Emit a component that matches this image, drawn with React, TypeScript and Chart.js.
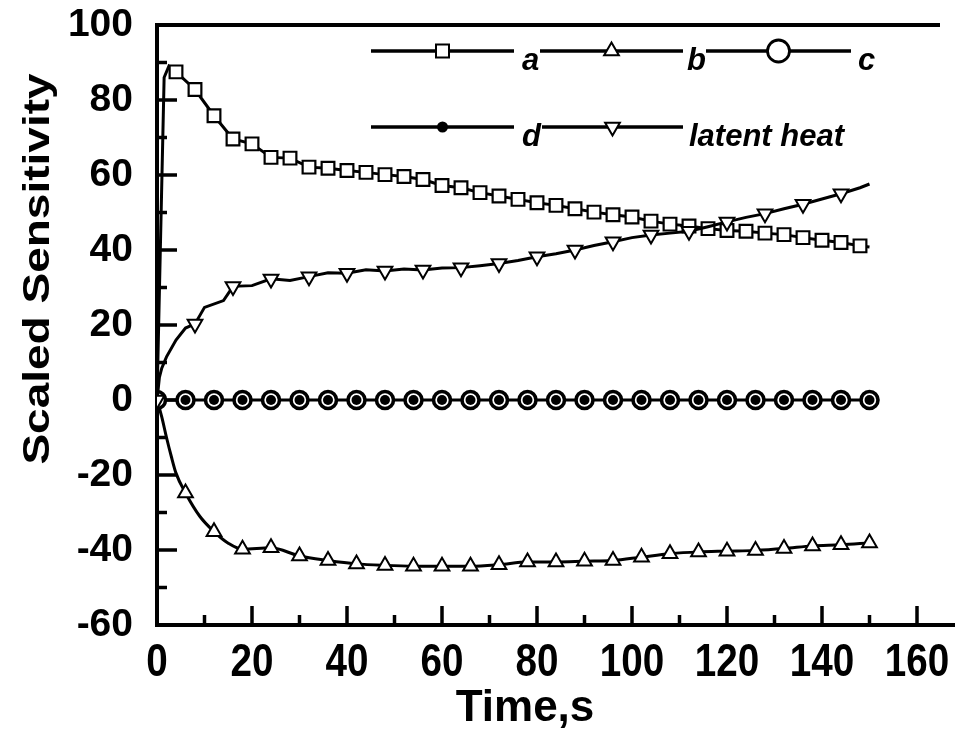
import React, { useEffect, useRef } from 'react';
import { Chart, registerables } from 'chart.js';

Chart.register(...registerables);

// ---------- data ----------
const seriesLabels = ['a', 'b', 'c', 'd', 'latent heat'];
const xTitle = 'Time,s';
const yTitle = 'Scaled Sensitivity';

const aTime = [0, 1.5, 2.5, 4, 8, 12, 16, 20, 24, 28, 32, 36, 40, 44, 48, 52, 56, 60, 64, 68, 72, 76, 80, 84, 88, 92, 96, 100, 104, 108, 112, 116, 120, 124, 128, 132, 136, 140, 144, 148, 150];
const aValue = [0, 86, 89, 87.5, 82.8, 75.8, 69.6, 68.3, 64.7, 64.5, 62.1, 61.8, 61.2, 60.7, 60.1, 59.6, 58.8, 57.2, 56.6, 55.3, 54.4, 53.5, 52.6, 51.9, 51.0, 50.1, 49.4, 48.8, 47.7, 46.9, 46.4, 45.7, 45.2, 45.0, 44.5, 44.1, 43.3, 42.6, 42.0, 41.1, 40.8];

const bTime = [0, 1, 2, 3, 4, 6, 9, 12, 15, 18, 24, 30, 36, 42, 48, 54, 60, 66, 72, 78, 84, 90, 96, 102, 108, 114, 120, 126, 132, 138, 144, 150];
const bValue = [0, -4.5, -10, -15, -19.5, -24.8, -31, -35.1, -38.2, -39.8, -39.4, -41.6, -42.8, -43.7, -44.1, -44.3, -44.3, -44.3, -43.9, -43.2, -43.2, -43.0, -42.8, -41.9, -41.0, -40.5, -40.3, -40.1, -39.6, -38.9, -38.6, -38.1];

const cdTime = [0, 6, 12, 18, 24, 30, 36, 42, 48, 54, 60, 66, 72, 78, 84, 90, 96, 102, 108, 114, 120, 126, 132, 138, 144, 150];
const cValue = [0, 0, 0, 0, 0, 0, 0, 0, 0, 0, 0, 0, 0, 0, 0, 0, 0, 0, 0, 0, 0, 0, 0, 0, 0, 0];
const dValue = [0, 0, 0, 0, 0, 0, 0, 0, 0, 0, 0, 0, 0, 0, 0, 0, 0, 0, 0, 0, 0, 0, 0, 0, 0, 0];

const latentTime = [0, 0.5, 1, 2, 4, 6, 8, 10, 14, 16, 20, 24, 28, 32, 36, 40, 44, 48, 52, 56, 60, 64, 68, 72, 76, 80, 84, 88, 92, 96, 100, 104, 108, 112, 116, 120, 124, 128, 132, 136, 140, 144, 148, 150];
const latentValue = [0, 6, 8.5, 11.5, 16, 19.2, 20.3, 24.7, 26.5, 30.3, 30.5, 32.3, 31.9, 32.9, 33.9, 33.8, 34.7, 34.4, 34.9, 34.7, 35.2, 35.3, 35.8, 36.4, 37.2, 38.2, 39.0, 40.0, 41.2, 42.2, 43.3, 44.0, 44.5, 45.0, 46.2, 47.5, 48.7, 49.7, 51.0, 52.2, 53.6, 55.0, 56.6, 57.6];

const xMin = 0;
const xMax = 168;
const xStep = 20;
const yMin = -60;
const yMax = 100;
const yStep = 20;

// ---------- helpers ----------
const toXY = (t: number[], v: number[]) => t.map((x, i) => ({ x, y: v[i] }));
const markerRadius = (times: number[], every: number, r: number, skipZero = false) => (c: any) => {
  const t = times[c.dataIndex];
  if (skipZero && t === 0) return 0;
  return t % every === 0 ? r : 0;
};

const tickFontY = { family: "'Liberation Sans', Arial, sans-serif", size: 39, weight: 'bold' as const };

// frame: spines + inward ticks + condensed x tick labels
const framePlugin = {
  id: 'frame',
  beforeDatasetsDraw(chart: any) {
    const { ctx, chartArea, scales } = chart;
    const { left, right, top, bottom } = chartArea;
    const x = scales.x;
    const y = scales.y;
    ctx.save();
    ctx.strokeStyle = '#000';
    ctx.lineWidth = 3.5;
    const xt: number[] = x.ticks.map((t: any) => t.value);
    const yt: number[] = y.ticks.map((t: any) => t.value);
    const drawX = (v: number, len: number) => {
      const p = x.getPixelForValue(v);
      ctx.beginPath(); ctx.moveTo(p, bottom); ctx.lineTo(p, bottom - len); ctx.stroke();
    };
    const drawY = (v: number, len: number) => {
      const p = y.getPixelForValue(v);
      ctx.beginPath(); ctx.moveTo(left, p); ctx.lineTo(left + len, p); ctx.stroke();
    };
    xt.forEach((v) => drawX(v, 19));
    for (let i = 0; i < xt.length - 1; i++) drawX((xt[i] + xt[i + 1]) / 2, 10);
    yt.forEach((v) => drawY(v, 20));
    for (let i = 0; i < yt.length - 1; i++) drawY((yt[i] + yt[i + 1]) / 2, 10);
    ctx.lineWidth = 4;
    ctx.beginPath();
    ctx.moveTo(right - 15, top);
    ctx.lineTo(left, top);
    ctx.lineTo(left, bottom);
    ctx.lineTo(right, bottom);
    ctx.stroke();

    // x tick labels (condensed bold, as in the original figure)
    ctx.fillStyle = '#000';
    ctx.font = "bold 46px 'Liberation Sans', Arial, sans-serif";
    ctx.textAlign = 'center';
    ctx.textBaseline = 'alphabetic';
    x.ticks.forEach((t: any) => {
      const p = x.getPixelForValue(t.value);
      ctx.save();
      ctx.translate(p, bottom + 51);
      ctx.scale(0.84, 1);
      ctx.fillText(String(t.label), 0, 0);
      ctx.restore();
    });
    ctx.restore();
  },
};

// axis titles
const titlesPlugin = {
  id: 'axisTitles',
  afterDraw(chart: any) {
    const { ctx, chartArea } = chart;
    const { left, top, bottom } = chartArea;
    ctx.save();
    ctx.fillStyle = '#000';
    ctx.font = "bold 44px 'Liberation Sans', Arial, sans-serif";
    ctx.textAlign = 'center';
    ctx.textBaseline = 'alphabetic';
    ctx.fillText(xTitle, left + 368, bottom + 96);
    ctx.translate(48.5, top + 244);
    ctx.rotate(-Math.PI / 2);
    ctx.scale(1, 0.82);
    ctx.font = "bold 46px 'Liberation Sans', Arial, sans-serif";
    ctx.fillText(yTitle, 0, 0);
    ctx.restore();
  },
};

type Mk = 'square' | 'up' | 'down' | 'ring' | 'dot';
const drawMarker = (ctx: CanvasRenderingContext2D, kind: Mk, cx: number, cy: number) => {
  ctx.save();
  ctx.strokeStyle = '#000';
  ctx.fillStyle = '#fff';
  ctx.beginPath();
  if (kind === 'square') {
    ctx.lineWidth = 2;
    ctx.rect(cx - 6.5, cy - 6.5, 13, 13);
    ctx.fill(); ctx.stroke();
  } else if (kind === 'up' || kind === 'down') {
    const r = 8.5;
    const s = kind === 'up' ? 1 : -1;
    ctx.lineWidth = 2;
    ctx.moveTo(cx, cy - s * r);
    ctx.lineTo(cx + r * 0.866, cy + s * r * 0.5);
    ctx.lineTo(cx - r * 0.866, cy + s * r * 0.5);
    ctx.closePath();
    ctx.fill(); ctx.stroke();
  } else if (kind === 'ring') {
    ctx.lineWidth = 2.8;
    ctx.arc(cx, cy, 11, 0, Math.PI * 2);
    ctx.fill(); ctx.stroke();
  } else {
    ctx.fillStyle = '#000';
    ctx.arc(cx, cy, 5.5, 0, Math.PI * 2);
    ctx.fill();
  }
  ctx.restore();
};

const legendItems: { label: string; kind: Mk; row: number; x0: number; x1: number; tx: number }[] = [
  { label: seriesLabels[0], kind: 'square', row: 0, x0: 214, x1: 357, tx: 365 },
  { label: seriesLabels[1], kind: 'up', row: 0, x0: 383, x1: 526, tx: 530 },
  { label: seriesLabels[2], kind: 'ring', row: 0, x0: 549, x1: 694, tx: 701 },
  { label: seriesLabels[3], kind: 'dot', row: 1, x0: 214, x1: 357, tx: 365 },
  { label: seriesLabels[4], kind: 'down', row: 1, x0: 385, x1: 526, tx: 532 },
];

const legendPlugin = {
  id: 'customLegend',
  afterDraw(chart: any) {
    const { ctx, chartArea } = chart;
    const { left, top } = chartArea;
    const rows = [top + 26, top + 102];
    ctx.save();
    legendItems.forEach((it) => {
      const y = rows[it.row];
      ctx.strokeStyle = '#000';
      ctx.lineWidth = 3.5;
      ctx.beginPath();
      ctx.moveTo(left + it.x0, y);
      ctx.lineTo(left + it.x1, y);
      ctx.stroke();
      drawMarker(ctx, it.kind, left + (it.x0 + it.x1) / 2, y);
      ctx.fillStyle = '#000';
      ctx.font = "italic bold 31px 'Liberation Sans', Arial, sans-serif";
      ctx.textAlign = 'left';
      ctx.textBaseline = 'alphabetic';
      ctx.fillText(it.label, left + it.tx, y + 19);
    });
    ctx.restore();
  },
};

export default function App() {
  const ref = useRef<HTMLCanvasElement>(null);

  useEffect(() => {
    const canvas = ref.current;
    if (!canvas) return;
    const chart = new Chart(canvas, {
      type: 'line',
      data: {
        datasets: [
          {
            label: seriesLabels[0],
            data: toXY(aTime, aValue),
            borderColor: '#000',
            borderWidth: 3,
            tension: 0,
            pointStyle: 'rect',
            pointRadius: markerRadius(aTime, 4, 9, true),
            pointBackgroundColor: '#fff',
            pointBorderColor: '#000',
            pointBorderWidth: 2.2,
            order: 4,
          },
          {
            label: seriesLabels[1],
            data: toXY(bTime, bValue),
            borderColor: '#000',
            borderWidth: 3,
            cubicInterpolationMode: 'monotone',
            pointStyle: 'triangle',
            pointRadius: markerRadius(bTime, 6, 8.5),
            pointBackgroundColor: '#fff',
            pointBorderColor: '#000',
            pointBorderWidth: 2,
            order: 3,
          },
          {
            label: seriesLabels[2],
            data: toXY(cdTime, cValue),
            borderColor: '#000',
            borderWidth: 3,
            pointStyle: 'circle',
            pointRadius: 8.5,
            pointBackgroundColor: '#fff',
            pointBorderColor: '#000',
            pointBorderWidth: 3.6,
            order: 2,
          },
          {
            label: seriesLabels[3],
            data: toXY(cdTime, dValue),
            borderColor: '#000',
            borderWidth: 3,
            showLine: false,
            pointStyle: 'circle',
            pointRadius: 5,
            pointBackgroundColor: '#000',
            pointBorderColor: '#000',
            pointBorderWidth: 0,
            order: 1,
          },
          {
            label: seriesLabels[4],
            data: toXY(latentTime, latentValue),
            borderColor: '#000',
            borderWidth: 3,
            tension: 0,
            pointStyle: 'triangle',
            pointRotation: 180,
            pointRadius: markerRadius(latentTime, 8, 8.5),
            pointBackgroundColor: '#fff',
            pointBorderColor: '#000',
            pointBorderWidth: 2,
            order: 0,
          },
        ],
      },
      options: {
        animation: false,
        responsive: true,
        maintainAspectRatio: false,
        events: [],
        layout: { autoPadding: false, padding: { top: 25, right: 0, left: 0, bottom: 0 } },
        plugins: {
          legend: { display: false },
          tooltip: { enabled: false },
        },
        scales: {
          x: {
            type: 'linear',
            min: xMin,
            max: xMax,
            grid: { display: false, drawTicks: false },
            border: { display: false },
            ticks: {
              display: false,
              stepSize: xStep,
              includeBounds: false,
              autoSkip: false,
              maxRotation: 0,
              padding: 0,
            },
            afterFit: (s: any) => { s.height = 106; },
          },
          y: {
            type: 'linear',
            min: yMin,
            max: yMax,
            grid: { display: false, drawTicks: true, tickLength: 24 },
            border: { display: false },
            ticks: {
              stepSize: yStep,
              padding: 0,
              color: '#000',
              font: tickFontY,
            },
            afterFit: (s: any) => { s.width = 157; },
          },
        },
      },
      plugins: [framePlugin, legendPlugin, titlesPlugin],
    } as any);
    return () => chart.destroy();
  }, []);

  return (
    <div style={{ position: 'fixed', left: 0, top: 0, width: 955, height: 731, background: '#fff' }}>
      <canvas ref={ref} />
    </div>
  );
}
